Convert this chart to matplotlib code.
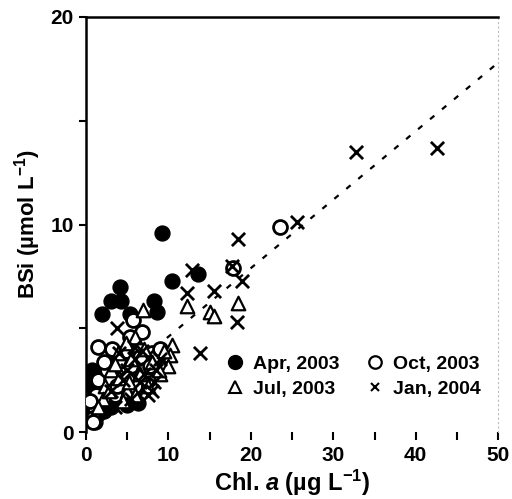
import matplotlib
matplotlib.use("Agg")
import matplotlib.pyplot as plt
from matplotlib.lines import Line2D
from matplotlib.ticker import MultipleLocator

plt.rcParams['font.family'] = ['Liberation Sans', 'DejaVu Sans']
plt.rcParams['font.weight'] = 'bold'
plt.rcParams['mathtext.fontset'] = 'custom'
plt.rcParams['mathtext.rm'] = 'Liberation Sans:bold'
plt.rcParams['mathtext.bf'] = 'Liberation Sans:bold'
plt.rcParams['mathtext.it'] = 'Liberation Sans:italic:bold'

# Chl. a (ug/L) and BSi (umol/L) per sampling campaign
apr_chl = [9.2, 10.4, 13.6, 4.1, 3.0, 4.2, 1.9, 8.3, 8.6, 5.3, 0.5, 0.8, 1.0, 1.2,
           1.5, 1.8, 2.2, 2.5, 3.0, 4.0, 5.0, 5.3, 1.0, 2.0, 3.5, 6.0, 7.5, 4.5,
           0.4, 0.6, 0.9, 1.3, 1.6, 0.3, 0.7, 2.8, 3.8, 5.8, 6.8, 0.5, 1.1,
           2.4, 4.8, 6.3, 0.3, 1.4]
apr_bsi = [9.6, 7.3, 7.6, 7.0, 6.3, 6.3, 5.7, 6.3, 5.8, 5.7, 1.0, 1.6, 2.2, 0.8,
           1.3, 1.9, 1.0, 1.5, 1.2, 1.8, 1.3, 1.6, 2.8, 2.6, 2.2, 2.8, 3.5, 3.2,
           2.0, 2.5, 1.2, 2.4, 0.9, 1.5, 3.0, 3.3, 2.9, 1.9, 3.2, 0.6, 0.5,
           2.0, 2.3, 1.4, 2.6, 1.6]

oct_chl = [23.5, 17.8, 1.5, 5.7, 6.8, 5.3, 1.5, 1.1, 0.8, 2.5, 3.0, 4.0, 4.5, 5.5,
           6.5, 7.0, 7.5, 8.0, 8.5, 3.5, 2.0, 6.0, 9.0, 3.2, 1.2, 0.5, 4.8, 3.8,
           2.2, 7.8, 0.9, 5.0]
oct_bsi = [9.9, 7.9, 4.1, 5.4, 4.8, 4.6, 2.5, 1.1, 0.7, 3.0, 2.5, 3.4, 2.8, 3.2,
           3.6, 3.0, 2.5, 3.8, 3.6, 1.8, 1.5, 2.2, 4.0, 4.0, 1.8, 1.5, 3.9, 2.2,
           3.4, 3.2, 0.5, 2.6]

jul_chl = [12.2, 18.4, 15.0, 15.5, 6.9, 10.4, 10.2, 10.0, 3.9, 6.0, 2.3, 2.1, 3.0,
           4.0, 5.0, 5.5, 6.5, 7.0, 8.0, 9.0, 9.5, 4.5, 6.0, 3.5, 7.5, 1.5, 2.8,
           4.8, 8.8, 5.2]
jul_bsi = [6.1, 6.2, 5.8, 5.6, 5.9, 4.2, 3.7, 3.2, 3.8, 4.6, 2.2, 1.6, 3.0,
           2.6, 2.0, 3.5, 2.8, 4.0, 3.4, 2.8, 3.9, 1.5, 1.8, 3.3, 2.2, 1.2, 2.0,
           4.3, 3.0, 2.4]

jan_chl = [32.8, 42.6, 25.6, 18.4, 12.8, 17.7, 18.9, 12.2, 15.5, 18.3, 13.8, 3.7,
           8.0, 6.5, 7.5, 4.5, 5.0, 6.0, 7.0, 8.5, 3.0, 9.0, 5.5, 4.0, 3.5, 6.8,
           8.2, 5.8]
jan_bsi = [13.5, 13.7, 10.1, 9.3, 7.8, 8.0, 7.3, 6.7, 6.8, 5.3, 3.8, 5.0,
           2.0, 2.4, 1.8, 2.5, 3.0, 3.5, 2.8, 3.0, 2.0, 3.5, 1.6, 3.8, 1.2, 3.9,
           2.4, 4.1]

x_ticks = [0, 10, 20, 30, 40, 50]
y_ticks = [0, 10, 20]

# regression line
fit_x = [4, 50]
fit_slope = 0.33
fit_icpt = 1.3

fig = plt.figure(figsize=(5.12, 4.99), dpi=100)
ax = fig.add_axes([0.168, 0.134, 0.805, 0.832])

ax.plot(fit_x, [fit_icpt + fit_slope * v for v in fit_x], color='black',
        linestyle=(0, (2.5, 4.5)), linewidth=1.6, zorder=1)

ax.scatter(apr_chl, apr_bsi, s=115, marker='o', facecolor='black',
           edgecolor='black', zorder=3)
ax.scatter(oct_chl, oct_bsi, s=100, marker='o', facecolor='white',
           edgecolor='black', linewidth=2.0, zorder=3)
ax.scatter(jul_chl, jul_bsi, s=95, marker='^', facecolor='white',
           edgecolor='black', linewidth=1.6, zorder=3)
ax.scatter(jan_chl, jan_bsi, s=90, marker='x', color='black',
           linewidth=2.0, zorder=3)

ax.set_xlim(0, 50)
ax.set_ylim(0, 20)
ax.xaxis.set_minor_locator(MultipleLocator(5))
ax.yaxis.set_minor_locator(MultipleLocator(5))
ax.tick_params(axis='both', which='both', direction='out', width=1.5, pad=4)
ax.tick_params(axis='x', which='both', length=6)
ax.tick_params(axis='y', which='both', length=5)
ax.set_xticks(x_ticks, [str(v) for v in x_ticks], fontsize=15, fontweight='bold')
ax.set_yticks(y_ticks, [str(v) for v in y_ticks], fontsize=15, fontweight='bold')

for side in ['left', 'top']:
    ax.spines[side].set_linewidth(1.8)
ax.spines['bottom'].set_visible(False)
ax.spines['right'].set_color('#bbbbbb')
ax.spines['right'].set_linestyle((0, (1, 3)))
ax.spines['right'].set_linewidth(0.8)

ax.set_xlabel('Chl. $\\mathit{a}$ (µg L$^{\\mathbf{-1}}$)', fontsize=17,
              fontweight='bold', labelpad=2)
ax.set_ylabel('BSi (µmol L$^{\\mathbf{-1}}$)', fontsize=16, fontweight='bold',
              labelpad=5)

handles = [
    Line2D([], [], marker='o', linestyle='none', markerfacecolor='black',
           markeredgecolor='black', markersize=10),
    Line2D([], [], marker='^', linestyle='none', markerfacecolor='white',
           markeredgecolor='black', markeredgewidth=1.5, markersize=8),
    Line2D([], [], marker='o', linestyle='none', markerfacecolor='white',
           markeredgecolor='black', markeredgewidth=1.6, markersize=9),
    Line2D([], [], marker='x', linestyle='none', color='black',
           markeredgewidth=1.5, markersize=5.5),
]
labels = ['Apr, 2003', 'Jul, 2003', 'Oct, 2003', 'Jan, 2004']
ax.legend(handles, labels, ncol=2, frameon=False, loc='lower left',
          bbox_to_anchor=(0.295, 0.04), handlelength=1.0,
          handletextpad=0.45, columnspacing=1.3, labelspacing=0.4,
          prop={'weight': 'bold', 'size': 14})

fig.savefig('out.png', dpi=100)
